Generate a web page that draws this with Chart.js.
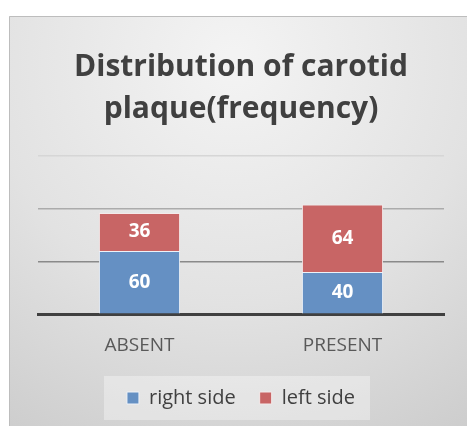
<!DOCTYPE html>
<html><head><meta charset="utf-8">
<script src="https://cdn.jsdelivr.net/npm/chart.js@4/dist/chart.umd.min.js"></script>
<style>html,body{margin:0;padding:0;background:#fff;}#wrap{width:467px;height:426px;}</style>
</head><body><div id="wrap"><canvas id="c" width="467" height="426"></canvas></div>
<script>
const categories = ['ABSENT', 'PRESENT'];
const rightSide = [60, 40];
const leftSide = [36, 64];
const seriesNames = ['right side', 'left side'];
const titleLines = ['Distribution of carotid', 'plaque(frequency)'];

const bgPlugin = {
  id: 'bg',
  beforeDraw(chart) {
    const ctx = chart.ctx;
    const W = chart.width, H = chart.height;
    ctx.save();
    ctx.fillStyle = '#ffffff';
    ctx.fillRect(0, 0, W, H);
    const g = ctx.createRadialGradient(W * 0.5, 60, 10, W * 0.5, 60, 480);
    g.addColorStop(0, '#f3f3f3');
    g.addColorStop(0.5, '#e2e2e2');
    g.addColorStop(1, '#c8c8c8');
    ctx.fillStyle = g;
    ctx.fillRect(9, 16, W - 9, H - 16);
    ctx.strokeStyle = '#bdbdbd';
    ctx.lineWidth = 1;
    ctx.beginPath();
    ctx.moveTo(9.5, H); ctx.lineTo(9.5, 16.5); ctx.lineTo(W, 16.5);
    ctx.stroke();
    const lg = chart.legend;
    if (lg && lg.legendHitBoxes && lg.legendHitBoxes.length) {
      const boxes = lg.legendHitBoxes;
      let x0 = Infinity, x1 = -Infinity, yc = 0;
      boxes.forEach(b => { x0 = Math.min(x0, b.left); x1 = Math.max(x1, b.left + b.width); yc += b.top + b.height / 2; });
      yc /= boxes.length;
      ctx.fillStyle = 'rgba(255,255,255,0.35)';
      ctx.fillRect(x0 - 23, yc - 22, (x1 - x0) + 38, 44);
    }
    ctx.restore();
  }
};

const labelPlugin = {
  id: 'barLabels',
  afterDatasetsDraw(chart) {
    const ctx = chart.ctx;
    ctx.save();
    ctx.fillStyle = '#ffffff';
    ctx.font = 'bold 19px "Open Sans"';
    ctx.textAlign = 'center';
    ctx.textBaseline = 'middle';
    chart.data.datasets.forEach((ds, di) => {
      const meta = chart.getDatasetMeta(di);
      meta.data.forEach((bar, i) => {
        const y = (bar.y + bar.base) / 2;
        ctx.fillText(String(ds.data[i]), bar.x, y);
      });
    });
    ctx.restore();
  }
};

const gridColors = {0: 'rgba(0,0,0,0)', 50: '#8a8a8a', 100: '#ababab', 150: '#d6d6d6'};

new Chart(document.getElementById('c'), {
  type: 'bar',
  data: {
    labels: categories,
    datasets: [
      { label: seriesNames[0], data: rightSide, backgroundColor: '#6590c3', borderColor: '#eef2f8', borderWidth: 1, categoryPercentage: 1, barPercentage: 0.4 },
      { label: seriesNames[1], data: leftSide, backgroundColor: '#c86565', borderColor: '#f4eaea', borderWidth: 1, categoryPercentage: 1, barPercentage: 0.4 }
    ]
  },
  options: {
    responsive: false,
    animation: false,
    devicePixelRatio: 1,
    layout: { padding: { left: 38, right: 23, top: 20, bottom: 8 } },
    plugins: {
      title: {
        display: true,
        text: titleLines,
        color: '#404040',
        font: { family: 'Open Sans', size: 30, weight: 'bold', lineHeight: 1.4 },
        padding: { top: 26, bottom: 26 }
      },
      legend: {
        position: 'bottom',
        labels: {
          color: '#404040',
          font: { family: 'Open Sans', size: 20 },
          boxWidth: 12, boxHeight: 12,
          padding: 24
        }
      },
      tooltip: { enabled: false }
    },
    scales: {
      x: {
        stacked: true,
        grid: { display: false },
        border: { display: true, color: '#404040', width: 3 },
        ticks: { color: '#595959', font: { family: 'Open Sans', size: 19 }, padding: 12 },
        afterFit(scale) { scale.height -= 5; }
      },
      y: {
        stacked: true,
        min: 0, max: 150,
        ticks: { display: false, stepSize: 50 },
        border: { display: false },
        grid: { color: ctx => gridColors[ctx.tick.value] || '#cccccc', lineWidth: 1.5, drawTicks: false },
        afterFit(scale) { scale.width = 0; }
      }
    }
  },
  plugins: [bgPlugin, labelPlugin]
});
</script></body></html>
